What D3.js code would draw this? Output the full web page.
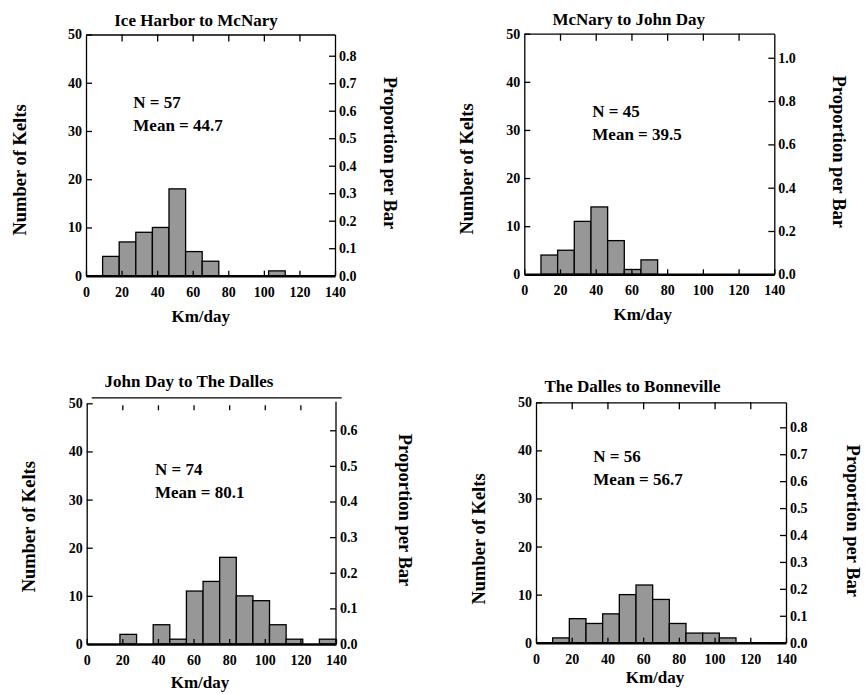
<!DOCTYPE html>
<html><head><meta charset="utf-8">
<script src="https://cdn.jsdelivr.net/npm/d3@7/dist/d3.min.js"></script>
<style>
body{margin:0;background:#fff;}
svg text{font-family:"Liberation Serif","Times New Roman",serif;font-weight:bold;fill:#000;}
</style></head>
<body><svg id="c" width="865" height="694"></svg>
<script>
// ---- data ----
const panelTitles = ["Ice Harbor to McNary", "McNary to John Day", "John Day to The Dalles", "The Dalles to Bonneville"];
const binCount = 15;               // bins of equal width across 0-140 km/day
const countsIceHarbor = [0, 4, 7, 9, 10, 18, 5, 3, 0, 0, 0, 1, 0, 0, 0];
const countsMcNary    = [0, 4, 5, 11, 14, 7, 1, 3, 0, 0, 0, 0, 0, 0, 0];
const countsJohnDay   = [0, 0, 2, 0, 4, 1, 11, 13, 18, 10, 9, 4, 1, 0, 1];
const countsDalles    = [0, 1, 5, 4, 6, 10, 12, 9, 4, 2, 2, 1, 0, 0, 0];
const nValues = [57, 45, 74, 56];
const meanValues = ["44.7", "39.5", "80.1", "56.7"];
const xTicks = [0, 20, 40, 60, 80, 100, 120, 140];
const yTicks = [0, 10, 20, 30, 40, 50];
const propTicks1 = [0, 0.1, 0.2, 0.3, 0.4, 0.5, 0.6, 0.7, 0.8];
const propTicks2 = [0, 0.2, 0.4, 0.6, 0.8, 1.0];
const propTicks3 = [0, 0.1, 0.2, 0.3, 0.4, 0.5, 0.6];
const propTicks4 = [0, 0.1, 0.2, 0.3, 0.4, 0.5, 0.6, 0.7, 0.8];
const xLabel = "Km/day", yLabel = "Number of Kelts", y2Label = "Proportion per Bar";

const seriesCounts = [countsIceHarbor, countsMcNary, countsJohnDay, countsDalles];
const seriesProp = [propTicks1, propTicks2, propTicks3, propTicks4];

// ---- layout ----
const layout = [
  {l:86, r:335, t:34.5, b:275.7, title:[196,26], stat:[133.3,108], xl:[200.7,321.5], yl:[20,170], y2l:[390,153]},
  {l:524.3, r:774.3, t:33.7, b:274.3, title:[628.7,25], stat:[592.3,117.3], xl:[642.7,320], yl:[466.7,169], y2l:[839.3,151.7]},
  {l:86.7, r:336, t:403.3, b:644, title:[189,387.3], stat:[155,475], xl:[200,688], yl:[28.3,526.7], y2l:[405,510], shiftedTop:true},
  {l:536, r:786, t:402.3, b:642.7, title:[632.5,391.7], stat:[593.3,461.7], xl:[655,683], yl:[478.3,539], y2l:[853.3,520.8]}
];

const svg = d3.select("#c");
const binW = 140 / binCount;

layout.forEach((L, k) => {
  const g = svg.append("g");
  const x = d3.scaleLinear().domain([0, 140]).range([L.l, L.r]);
  const y = d3.scaleLinear().domain([0, 50]).range([L.b, L.t]);
  const yp = d3.scaleLinear().domain([0, 50 / nValues[k]]).range([L.b, L.t]);
  const counts = seriesCounts[k];

  // bars
  g.selectAll("rect.bar").data(counts.map((c, i) => ({c, i})).filter(d => d.c > 0))
    .join("rect").attr("class", "bar")
    .attr("x", d => x(d.i * binW)).attr("width", d => x((d.i + 1) * binW) - x(d.i * binW))
    .attr("y", d => y(d.c)).attr("height", d => y(0) - y(d.c))
    .attr("fill", "#979797").attr("stroke", "#000").attr("stroke-width", 1.3);

  // left axis
  g.append("g").attr("transform", `translate(${L.l},0)`)
    .call(d3.axisLeft(y).tickValues(yTicks).tickSizeInner(-6).tickSizeOuter(0).tickPadding(4).tickFormat(d3.format("d")));
  // right axis
  const gr = g.append("g").attr("transform", `translate(${L.r},0)`)
    .call(d3.axisRight(yp).tickValues(seriesProp[k]).tickSizeInner(-6).tickSizeOuter(0).tickPadding(4).tickFormat(d3.format(".1f")));
  if (L.shiftedTop) gr.select(".domain").attr("d", `M0,${L.t - 1.5}V${L.b}`);
  // bottom axis
  const gb = g.append("g").attr("transform", `translate(0,${L.b})`)
    .call(d3.axisBottom(x).tickValues(xTicks).tickSizeInner(-5).tickSizeOuter(0).tickPadding(11).tickFormat(d3.format("d")));
  // top ticks
  const gt = g.append("g").attr("transform", `translate(0,${L.t})`)
    .call(d3.axisTop(x).tickValues(xTicks.slice(1, -1)).tickSizeInner(-7).tickSizeOuter(0).tickFormat(""));
  if (L.shiftedTop) {
    gt.select(".domain").remove();
    g.append("line").attr("x1", L.l + 5).attr("x2", L.r + 5.7).attr("y1", L.t - 5.5).attr("y2", L.t - 5.5)
      .attr("stroke", "#000").attr("stroke-width", 1.3);
    gt.selectAll(".tick line").attr("y1", 2).attr("y2", 7);
  }
  g.selectAll(".domain, .tick line").attr("stroke", "#000").attr("stroke-width", 1.3);
  gb.select(".domain").attr("stroke-width", 2.4);
  g.selectAll(".tick text").attr("font-family", null).attr("fill", "#000").style("font-size", "14px");

  // title
  g.append("text").attr("x", L.title[0]).attr("y", L.title[1]).attr("text-anchor", "middle")
    .attr("font-size", 17).text(panelTitles[k]);
  // stats
  g.append("text").attr("x", L.stat[0]).attr("y", L.stat[1]).attr("font-size", 17).text(`N = ${nValues[k]}`);
  g.append("text").attr("x", L.stat[0]).attr("y", L.stat[1] + 22.8).attr("font-size", 17).text(`Mean = ${meanValues[k]}`);
  // axis labels
  g.append("text").attr("x", L.xl[0]).attr("y", L.xl[1]).attr("text-anchor", "middle").attr("font-size", 17).text(xLabel);
  g.append("text").attr("transform", `translate(${L.yl[0]},${L.yl[1]}) rotate(-90)`).attr("text-anchor", "middle")
    .attr("dy", "0.35em").attr("font-size", 18.5).text(yLabel);
  g.append("text").attr("transform", `translate(${L.y2l[0]},${L.y2l[1]}) rotate(90)`).attr("text-anchor", "middle")
    .attr("dy", "0.35em").attr("font-size", 18.5).text(y2Label);
});
</script></body></html>
